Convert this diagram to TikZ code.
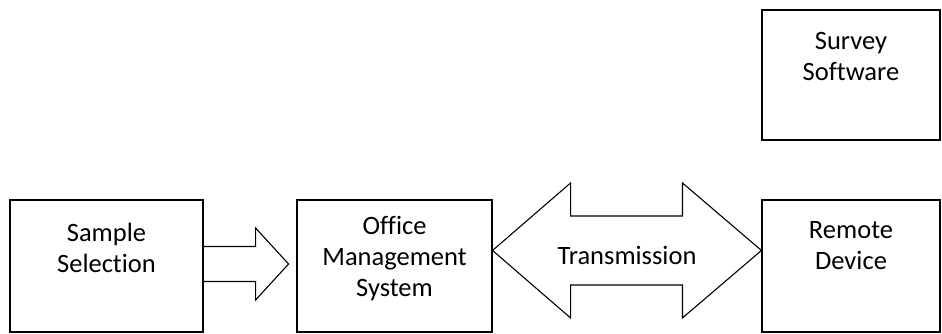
\documentclass[tikz,border=0pt]{standalone}
\usepackage{fontspec}
\setmainfont[Ligatures=NoCommon]{Carlito}
\usetikzlibrary{calc}
\begin{document}
\begin{tikzpicture}[x=1pt,y=1pt,
  box/.style={draw=black,line width=1.1pt,minimum height=132pt,inner sep=0pt},
  lbl/.style={font=\fontsize{26.5}{31}\selectfont,align=center,inner sep=0pt},
  fatarrow/.style={draw=black,line width=1.1pt,line join=miter}]
\useasboundingbox (0,0) rectangle (942,333);

% boxes
\node[box,minimum width=193pt] (sel) at (106.5,67) {};
\node[box,minimum width=195pt] (oms) at (394.5,67) {};
\node[box,minimum width=178pt] (rem) at (851,67) {};
\node[box,minimum width=178pt,minimum height=130pt] (sur) at (851,258) {};

% box captions
\node[lbl] (selT) at ($(sel.center)+(0,18.5)$) {Sample\\Selection};
\node[lbl] (omsT) at ($(oms.center)+(0,7)$) {Office\\Management\\System};
\node[lbl] (remT) at ($(rem.center)+(0,20)$) {Remote\\Device};
\node[lbl] (surT) at ($(sur.center)+(0,19)$) {Survey\\Software};

% block arrow: sample selection feeds the office system
\coordinate (a1) at ($(sel.east)+(0,2)$);
\draw[fatarrow]
  ($(a1)+(0,17.5)$) -- ($(a1)+(52,17.5)$) -- ($(a1)+(52,36)$)
  -- ($(a1)+(85,0)$)
  -- ($(a1)+(52,-36)$) -- ($(a1)+(52,-17.5)$) -- ($(a1)+(0,-17.5)$);

% two-way block arrow between office system and remote device
\coordinate (tl) at ($(oms.north east)+(0,-51)$);
\coordinate (tr) at ($(rem.north west)+(0,-51)$);
\draw[fatarrow]
  (tl) -- ($(tl)+(78,67.5)$) -- ($(tl)+(78,34.5)$)
  -- ($(tr)+(-79,34.5)$) -- ($(tr)+(-79,67.5)$) -- (tr)
  -- ($(tr)+(-79,-67.5)$) -- ($(tr)+(-79,-34.5)$)
  -- ($(tl)+(78,-34.5)$) -- ($(tl)+(78,-67.5)$) -- cycle;
\node[lbl] (tx) at ($(tl)!0.5!(tr)+(0,-5)$) {Transmission};
\end{tikzpicture}
\end{document}
